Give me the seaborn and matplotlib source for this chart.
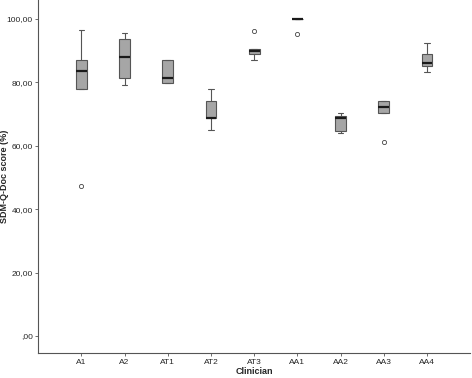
import numpy as np
import pandas as pd
import matplotlib
matplotlib.use("Agg")
import matplotlib.pyplot as plt
import seaborn as sns
from matplotlib.ticker import FuncFormatter

clinicians = ["A1", "A2", "AT1", "AT2", "AT3", "AA1", "AA2", "AA3", "AA4"]

score_A1 = [47.3, 77.8, 77.8, 80.0, 83.5, 85.0, 87.0, 90.0, 96.5]
score_A2 = [79.3, 81.5, 88.1, 93.7, 95.7]
score_AT1 = [79.7, 79.7, 81.5, 87.1, 87.1]
score_AT2 = [64.9, 68.7, 68.7, 74.1, 77.8]
score_AT3 = [87.1, 89.0, 89.0, 89.5, 89.9, 90.2, 90.6, 90.6, 96.3]
score_AA1 = [95.3, 100.0, 100.0, 100.0, 100.0]
score_AA2 = [63.9, 64.8, 68.7, 69.5, 70.3]
score_AA3 = [61.3, 70.4, 70.4, 71.0, 72.3, 73.0, 74.1, 74.1, 74.1]
score_AA4 = [83.4, 85.2, 86.2, 89.0, 92.5]

scores = [score_A1, score_A2, score_AT1, score_AT2, score_AT3,
          score_AA1, score_AA2, score_AA3, score_AA4]

rows = []
for c, vals in zip(clinicians, scores):
    for v in vals:
        rows.append({"Clinician": c, "score": v})
df = pd.DataFrame(rows)

sns.set_style("white")
plt.rcParams["font.family"] = ["Liberation Sans", "DejaVu Sans"]

fig = plt.figure(figsize=(4.72, 3.78), dpi=100)
ax = fig.add_axes([0.081, 0.066, 0.915, 0.934])

sns.boxplot(data=df, x="Clinician", y="score", order=clinicians, ax=ax,
            width=0.25, color="#a6a6a6", saturation=1, linewidth=0.8,
            linecolor="#555555",
            medianprops=dict(color="#1a1a1a", linewidth=1.6),
            flierprops=dict(marker="o", markersize=3, markerfacecolor="white",
                            markeredgecolor="#444444", markeredgewidth=0.6))

ax.set_xlim(-1, 9)
ax.set_ylim(-5.4, 106)
ax.set_yticks([0, 20, 40, 60, 80, 100])
ax.yaxis.set_major_formatter(FuncFormatter(
    lambda v, p: ",00" if v == 0 else f"{v:.2f}".replace(".", ",")))
ax.tick_params(axis="both", labelsize=6, length=2.5, width=0.6,
               color="#555555", pad=1.5, left=True, bottom=True)
ax.set_xlabel("Clinician", fontsize=6.5, fontweight="bold", labelpad=1)
ax.set_ylabel("SDM-Q-Doc score (%)", fontsize=6.5, fontweight="bold")
ax.yaxis.set_label_coords(-0.067, 0.5)
for s in ["top", "right"]:
    ax.spines[s].set_visible(False)
for s in ["left", "bottom"]:
    ax.spines[s].set_color("#555555")
    ax.spines[s].set_linewidth(0.8)

fig.savefig("out.png", dpi=100)
